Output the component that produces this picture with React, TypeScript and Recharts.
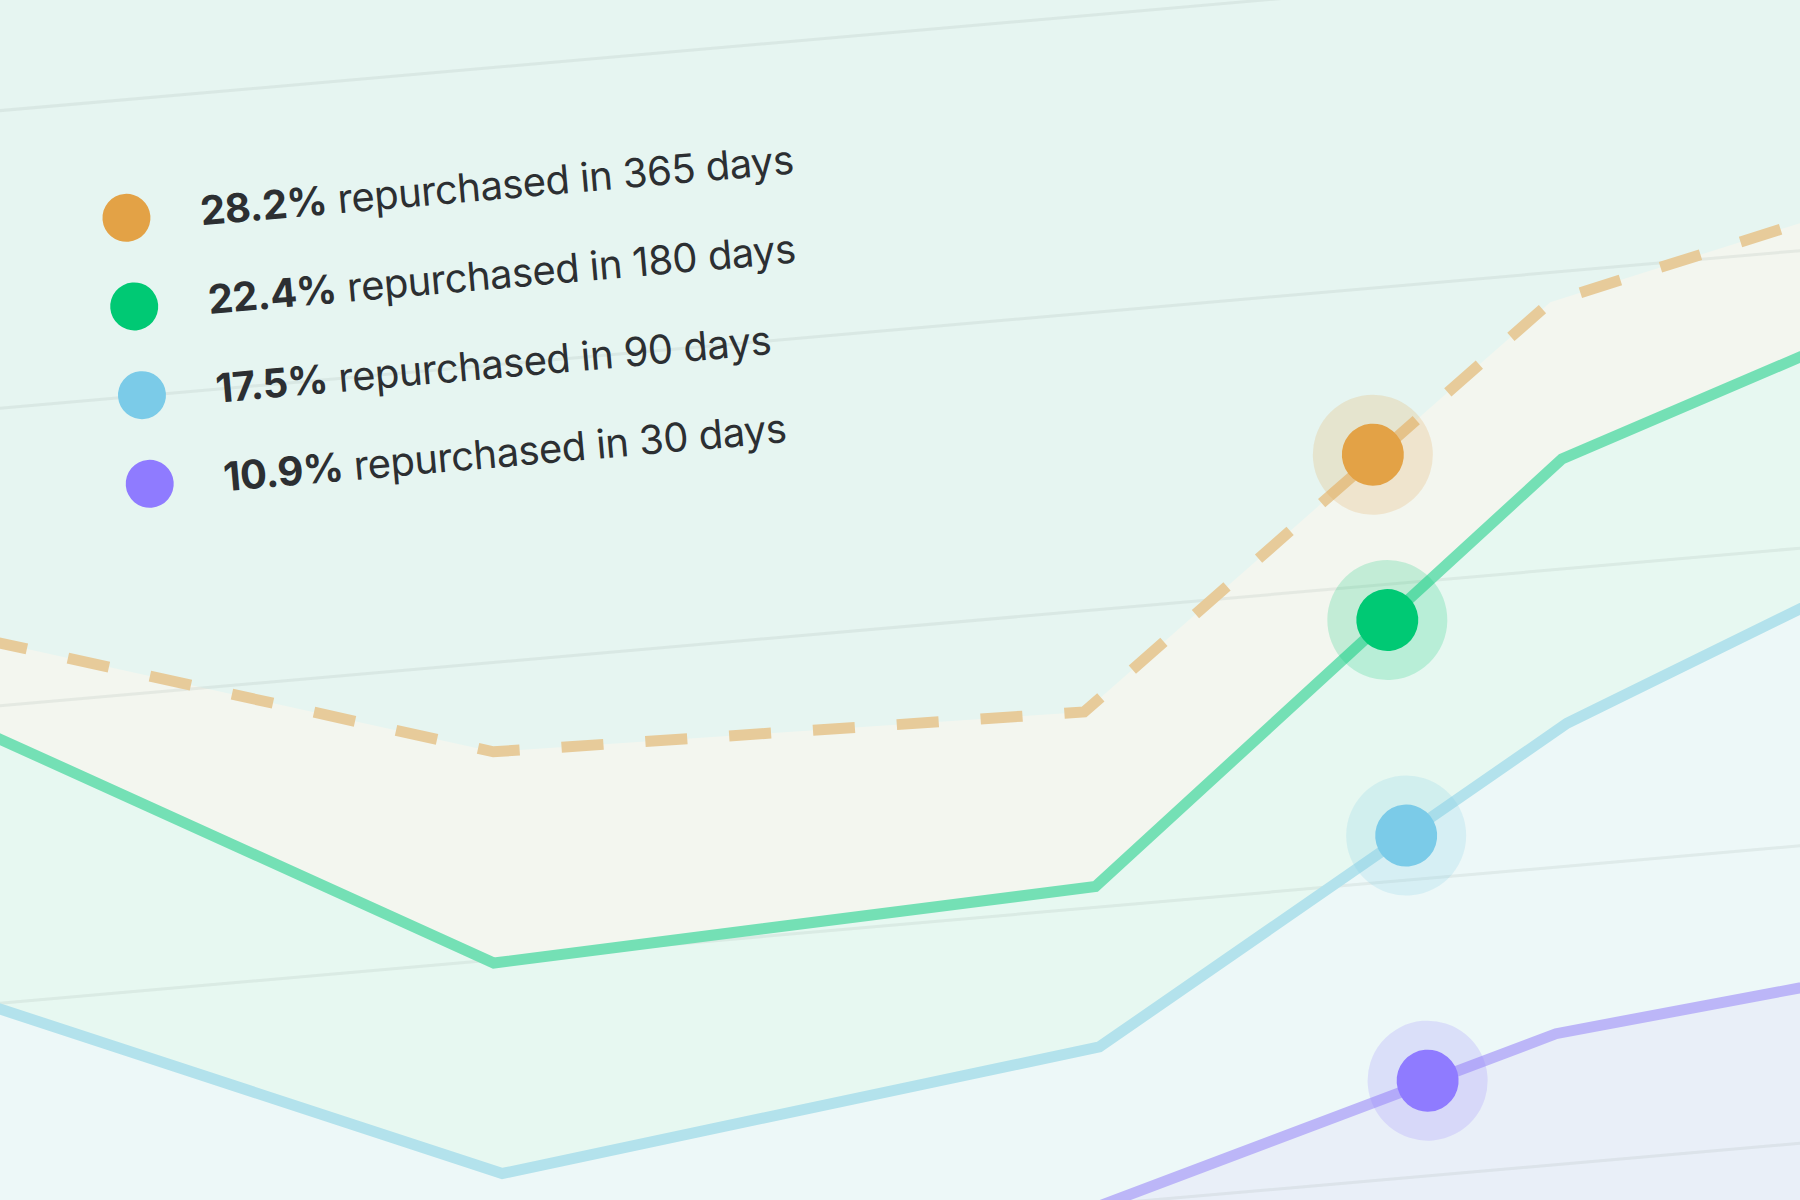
import { Area, ComposedChart, Line, ReferenceDot, ReferenceLine, XAxis, YAxis } from "recharts";

// windows, as shown in the legend
const windowLabels = ["365 days", "180 days", "90 days", "30 days"];
const windowRates = ["28.2%", "22.4%", "17.5%", "10.9%"];

// positions along the time axis and the repurchase curve for each window
const x365 = [0, 28.8, 58.4, 83.4, 100];
const y365 = [28.1, 22.0, 21.6, 34.0, 36.5];
const x180 = [0, 27.9, 58.2, 83.3, 100];
const y180 = [25.5, 14.9, 15.7, 28.7, 32.4];
const x90 = [0, 27.4, 57.7, 82.4, 100];
const y90 = [15.7, 7.8, 10.3, 19.8, 24.4];
const x30 = [0, 27.5, 52.5, 80.5, 100];
const y30 = [0.5, 1.0, 4.1, 9.4, 10.7];

// highlighted point
const cursorX = 73.9;
const cursorValues = [29.4, 23.8, 16.5, 8.2];

const gridValues = [5, 15, 25, 35, 45];

const lineColors = ["#e7cb9a", "#74e0b5", "#b3e2ec", "#bcb6f8"];
const dotColors = ["#e3a246", "#00c974", "#7bcbe8", "#8f7bff"];
const areaColors = ["#f3f6ef", "#e7f8f1", "#edf8f8", "#e9eff8"];

const CHART_W = 2000;
const CHART_H = 1482;
const OX = 150;
const OY = 38;

function toPoints(xs: number[], ys: number[]) {
  return xs.map((x, i) => ({ x, y: ys[i] }));
}

const series = [
  toPoints(x365, y365),
  toPoints(x180, y180),
  toPoints(x90, y90),
  toPoints(x30, y30),
];

function Legend() {
  return (
    <>
      {windowLabels.map((label, i) => {
        const cy = OY + 228 + i * 89;
        return (
          <div key={label}>
            <div
              style={{
                position: "absolute",
                left: OX + 107 - 24,
                top: cy - 24,
                width: 48,
                height: 48,
                borderRadius: "50%",
                background: dotColors[i],
              }}
            />
            <div
              style={{
                position: "absolute",
                left: OX + 181,
                top: cy - 26,
                height: 52,
                lineHeight: "52px",
                fontFamily: "Inter, sans-serif",
                fontSize: 40,
                letterSpacing: -0.5,
                color: "#2c2f32",
                whiteSpace: "nowrap",
              }}
            >
              <span style={{ fontWeight: 700 }}>{windowRates[i]}</span> repurchased in {label}
            </div>
          </div>
        );
      })}
    </>
  );
}

export default function App() {
  return (
    <div
      style={{
        position: "fixed",
        left: 0,
        top: 0,
        width: 1800,
        height: 1200,
        overflow: "hidden",
        background: "#e6f5f1",
      }}
    >
      <div
        style={{
          position: "absolute",
          left: -OX,
          top: -OY,
          width: CHART_W,
          height: CHART_H,
          transform: "rotate(-5deg)",
          transformOrigin: `${OX}px ${OY}px`,
        }}
      >
        <ComposedChart width={CHART_W} height={CHART_H} margin={{ top: 0, right: 0, bottom: 0, left: 0 }}>
          <XAxis type="number" dataKey="x" domain={[0, 100]} hide />
          <YAxis type="number" domain={[0, 50]} hide />
          {series.map((data, i) => (
            <Area
              key={`area-${i}`}
              data={data}
              dataKey="y"
              type="linear"
              stroke="none"
              fill={areaColors[i]}
              fillOpacity={1}
              isAnimationActive={false}
            />
          ))}
          {gridValues.map((v) => (
            <ReferenceLine key={`grid-${v}`} y={v} stroke="#8c9a94" strokeOpacity={0.14} strokeWidth={3} />
          ))}
          {series.map((data, i) => (
            <Line
              key={`line-${i}`}
              data={data}
              dataKey="y"
              type="linear"
              stroke={lineColors[i]}
              strokeWidth={11}
              strokeDasharray={i === 0 ? "42 42" : undefined}
              dot={false}
              activeDot={false}
              isAnimationActive={false}
            />
          ))}
          {cursorValues.map((v, i) => (
            <ReferenceDot key={`halo-${i}`} x={cursorX} y={v} r={60} fill={dotColors[i]} fillOpacity={0.2} stroke="none" />
          ))}
          {cursorValues.map((v, i) => (
            <ReferenceDot key={`dot-${i}`} x={cursorX} y={v} r={31} fill={dotColors[i]} stroke="none" />
          ))}
        </ComposedChart>
        <Legend />
      </div>
    </div>
  );
}
